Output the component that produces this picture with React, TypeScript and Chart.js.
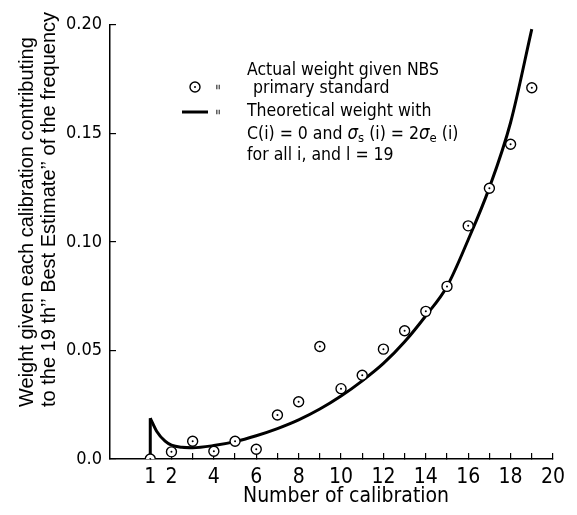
import React, { useEffect, useRef } from "react";
import { Chart, registerables } from "chart.js";

Chart.register(...registerables);

// Calibration numbers and actual weight given NBS primary standard (circles)
const calibration = [1, 2, 3, 4, 5, 6, 7, 8, 9, 10, 11, 12, 13, 14, 15, 16, 17, 18, 19];
const actualWeight = [
  0.0, 0.0033, 0.0082, 0.0036, 0.0082, 0.0045, 0.0203, 0.0264, 0.0518, 0.0324,
  0.0386, 0.0506, 0.0591, 0.068, 0.0795, 0.1074, 0.1247, 0.145, 0.171,
];

// Theoretical weight curve
const curveX = [1, 1.3, 1.7, 2, 2.5, 3, 4, 5, 6, 7, 8, 9, 10, 11, 12, 13, 14, 15, 16, 17, 18, 19];
const curveY = [
  0.0188, 0.0128, 0.0082, 0.0064, 0.0054, 0.0052, 0.0062, 0.008, 0.0107, 0.014, 0.018,
  0.023, 0.029, 0.036, 0.044, 0.054, 0.066, 0.0795, 0.101, 0.125, 0.155, 0.198,
];
// Vertical jump at calibration 1
const spikeX = [1, 1];
const spikeY = [0, 0.0188];

const xTickValues = [1, 2, 3, 4, 5, 6, 7, 8, 9, 10, 11, 12, 13, 14, 15, 16, 17, 18, 19, 20];
const xTickLabelled = [1, 2, 4, 6, 8, 10, 12, 14, 16, 18, 20];
const yTickValues = [0, 0.05, 0.1, 0.15, 0.2];
const yTickLabels = ["0.0", "0.05", "0.10", "0.15", "0.20"];

const xTitle = "Number of calibration";
const yTitleLines = [
  "Weight given each calibration contributing",
  "to the 19 th\u2019\u2019 Best Estimate\u2019\u2019 of the frequency",
];
const legendActual = ["Actual weight given NBS", "primary standard"];
const legendTheory = ["Theoretical weight with", "for all i, and l = 19"];

const SANS = "'Liberation Sans', Arial, sans-serif";
const DIN = "'Liberation Sans Narrow', 'DejaVu Sans Condensed', 'Liberation Sans', sans-serif";

const annotate = {
  id: "annotate",
  afterDraw(chart: any) {
    const ctx = chart.ctx as CanvasRenderingContext2D;
    ctx.save();
    ctx.fillStyle = "#000";
    ctx.strokeStyle = "#000";

    // Y axis title (rotated, two lines, start aligned at bottom)
    ctx.save();
    ctx.font = `20px ${SANS}`;
    ctx.textBaseline = "middle";
    ctx.textAlign = "left";
    const yx = [27, 49];
    yTitleLines.forEach((t, i) => {
      ctx.save();
      ctx.translate(yx[i], 407);
      ctx.rotate(-Math.PI / 2);
      ctx.fillText(t, 0, 0);
      ctx.restore();
    });
    ctx.restore();

    // X axis title
    ctx.font = `21px ${DIN}`;
    ctx.textBaseline = "middle";
    ctx.textAlign = "left";
    ctx.fillText(xTitle, 243, 497, 212);

    // Legend: circle symbol
    ctx.lineWidth = 1.4;
    ctx.beginPath();
    ctx.arc(195, 87, 5, 0, Math.PI * 2);
    ctx.stroke();
    ctx.beginPath();
    ctx.arc(195, 87, 1, 0, Math.PI * 2);
    ctx.fill();
    // Legend: line symbol
    ctx.lineWidth = 3;
    ctx.beginPath();
    ctx.moveTo(182, 112);
    ctx.lineTo(208, 112);
    ctx.stroke();
    // small equals marks, rotated
    ctx.font = `9px ${SANS}`;
    ctx.textAlign = "center";
    [87, 112].forEach((yy) => {
      ctx.save();
      ctx.translate(217, yy);
      ctx.rotate(Math.PI / 2);
      ctx.fillText("\u2261", 0, 0);
      ctx.restore();
    });

    // Legend text
    ctx.font = `17.5px ${DIN}`;
    ctx.textAlign = "left";
    ctx.textBaseline = "middle";
    ctx.fillText(legendActual[0], 247, 70, 192);
    ctx.fillText(legendActual[1], 253, 88, 152);
    ctx.fillText(legendTheory[0], 247, 111, 186);
    ctx.fillText(legendTheory[1], 247, 155, 160);

    // "C(i) = 0 and σs (i) = 2σe (i)" with subscripts
    let x = 247;
    const yb = 134;
    const seg = (t: string, size: number, dy: number, italic = false) => {
      ctx.font = `${italic ? "italic " : ""}${size}px ${DIN}`;
      ctx.fillText(t, x, yb + dy);
      x += ctx.measureText(t).width;
    };
    seg("C(i) = 0 and ", 17.5, 0);
    seg("\u03c3", 18.5, 0, true);
    seg("s", 13, 5);
    seg(" (i) = 2", 17.5, 0);
    seg("\u03c3", 18.5, 0, true);
    seg("e", 13, 5);
    seg(" (i)", 17.5, 0);

    ctx.restore();
  },
};

export default function App() {
  const ref = useRef<HTMLCanvasElement>(null);
  useEffect(() => {
    if (!ref.current) return;
    const chart = new Chart(ref.current, {
      type: "scatter",
      data: {
        datasets: [
          {
            label: "dots",
            data: calibration.map((c, i) => ({ x: c, y: actualWeight[i] })),
            pointRadius: 1,
            pointBackgroundColor: "#000",
            pointBorderWidth: 0,
            showLine: false,
            order: 0,
          },
          {
            label: "Actual weight given NBS primary standard",
            data: calibration.map((c, i) => ({ x: c, y: actualWeight[i] })),
            pointRadius: 5,
            pointBorderWidth: 1.4,
            pointBorderColor: "#000",
            pointBackgroundColor: "#fff",
            showLine: false,
            order: 1,
          },
          {
            label: "Theoretical weight",
            data: curveX.map((c, i) => ({ x: c, y: curveY[i] })),
            showLine: true,
            pointRadius: 0,
            borderColor: "#000",
            borderWidth: 3,
            cubicInterpolationMode: "monotone",
            order: 2,
          },
          {
            label: "spike",
            data: spikeX.map((c, i) => ({ x: c, y: spikeY[i] })),
            showLine: true,
            pointRadius: 0,
            borderColor: "#000",
            borderWidth: 3,
            order: 3,
          },
        ],
      },
      options: {
        animation: false,
        responsive: false,
        maintainAspectRatio: false,
        layout: { padding: { top: 20, right: 14.5, left: 0, bottom: 0 } },
        plugins: { legend: { display: false }, tooltip: { enabled: false } },
        scales: {
          x: {
            type: "linear",
            min: -0.9,
            max: 20,
            afterBuildTicks: (s: any) => {
              s.ticks = xTickValues.map((v) => ({ value: v }));
            },
            afterFit: (s: any) => {
              s.height = 56;
            },
            ticks: {
              autoSkip: false,
              maxRotation: 0,
              padding: 12,
              color: "#000",
              font: { family: DIN, size: 21 },
              callback: (v: any) => (xTickLabelled.includes(v) ? String(v) : ""),
            },
            grid: { drawOnChartArea: false, drawTicks: true, tickLength: -6, color: "#000", lineWidth: 1.2 },
            border: { display: true, color: "#000", width: 1.5 },
          },
          y: {
            min: 0,
            max: 0.2,
            afterBuildTicks: (s: any) => {
              s.ticks = yTickValues.map((v) => ({ value: v }));
            },
            afterFit: (s: any) => {
              s.width = 110;
            },
            ticks: {
              padding: 14,
              color: "#000",
              font: { family: DIN, size: 18 },
              callback: (v: any) => {
                const i = yTickValues.findIndex((t) => Math.abs(t - v) < 1e-9);
                return i >= 0 ? yTickLabels[i] : "";
              },
            },
            grid: { drawOnChartArea: false, drawTicks: true, tickLength: -6, color: "#000", lineWidth: 1.2 },
            border: { display: true, color: "#000", width: 1.5 },
          },
        },
      },
      plugins: [annotate],
    } as any);
    return () => chart.destroy();
  }, []);
  return (
    <div style={{ position: "fixed", left: 0, top: 0, width: 577, height: 515, background: "#fff" }}>
      <canvas ref={ref} width={577} height={515} style={{ display: "block" }} />
    </div>
  );
}
